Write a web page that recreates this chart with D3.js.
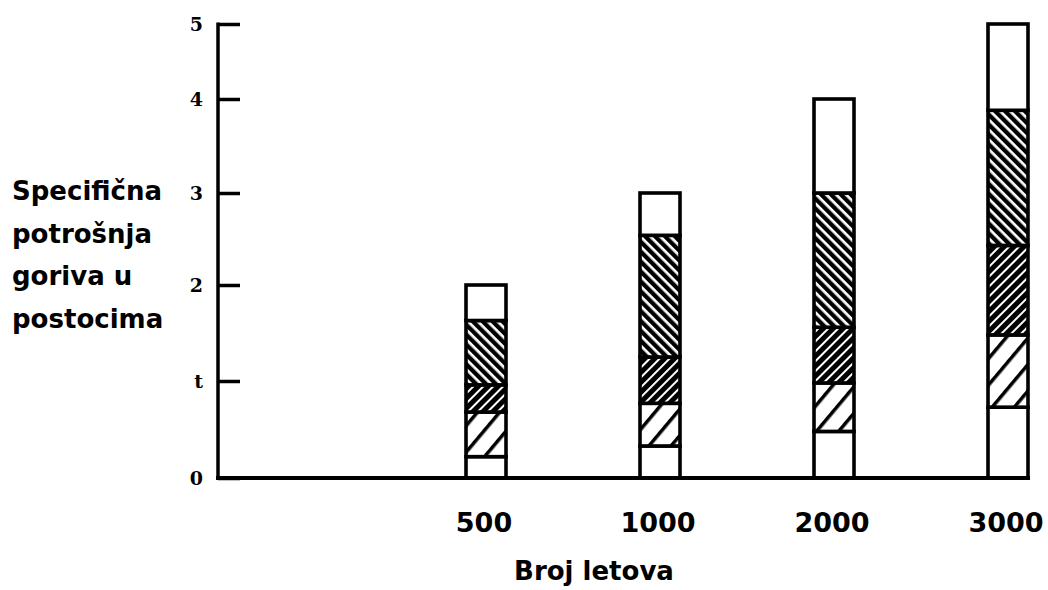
<!DOCTYPE html>
<html>
<head>
<meta charset="utf-8">
<script src="https://cdn.jsdelivr.net/npm/d3@7"></script>
<style>
  body { margin: 0; background: #fff; }
  svg { display: block; }
</style>
</head>
<body>
<div id="chart"></div>
<script>
// categories (number of flights)
var categories = ["500", "1000", "2000", "3000"];

// stacked segments, bottom to top (percent)
var bottomWhite = [0.22, 0.33, 0.48, 0.73];
var sparseHatch = [0.46, 0.44, 0.50, 0.75];
var mediumHatch = [0.28, 0.48, 0.58, 0.95];
var denseHatch = [0.67, 1.29, 1.44, 1.45];
var topWhite = [0.37, 0.46, 1.00, 1.12];

// y tick labels (scan reads "t" for 1)
var yTickValues = [0, 1, 2, 3, 4, 5];
var yTickLabels = ["0", "t", "2", "3", "4", "5"];

var yTitle = ["Specifična", "potrošnja", "goriva u", "postocima"];
var xTitle = "Broj letova";

var width = 1048,
  height = 590;

var svg = d3
  .select("#chart")
  .append("svg")
  .attr("width", width)
  .attr("height", height);

// hatch patterns
var defs = svg.append("defs");
function hatch(id, period, thick, angle) {
  var p = defs
    .append("pattern")
    .attr("id", id)
    .attr("patternUnits", "userSpaceOnUse")
    .attr("width", period)
    .attr("height", period)
    .attr("patternTransform", "rotate(" + angle + ")");
  p.append("rect").attr("width", period).attr("height", period).attr("fill", "#fff");
  p.append("rect").attr("width", thick).attr("height", period).attr("fill", "#000");
}
hatch("dense", 7, 4.3, -45);
hatch("medium", 7, 5, 45);
hatch("sparse", 17, 3.5, 40);

var fills = ["#fff", "url(#sparse)", "url(#medium)", "url(#dense)", "#fff"];

// scales (the scanned axis is slightly uneven)
var y = d3
  .scaleLinear()
  .domain([0, 1, 2, 3, 4, 5])
  .range([478, 381, 285, 193, 99, 24]);

var x = d3.scalePoint().domain(categories).range([486, 1008]);
var barWidth = 40;

// build stacked data
var rows = categories.map(function (c, i) {
  return {
    cat: c,
    s0: bottomWhite[i],
    s1: sparseHatch[i],
    s2: mediumHatch[i],
    s3: denseHatch[i],
    s4: topWhite[i],
  };
});
var stacked = d3.stack().keys(["s0", "s1", "s2", "s3", "s4"])(rows);

svg
  .selectAll("g.layer")
  .data(stacked)
  .enter()
  .append("g")
  .attr("class", "layer")
  .attr("fill", function (d, i) {
    return fills[i];
  })
  .selectAll("rect")
  .data(function (d) {
    return d;
  })
  .enter()
  .append("rect")
  .attr("x", function (d) {
    return x(d.data.cat) - barWidth / 2;
  })
  .attr("y", function (d) {
    return y(d[1]);
  })
  .attr("width", barWidth)
  .attr("height", function (d) {
    return y(d[0]) - y(d[1]);
  })
  .attr("stroke", "#000")
  .attr("stroke-width", 3.6);

// y axis line and ticks
var yAxis = d3
  .axisRight(y)
  .tickValues(yTickValues)
  .tickSize(22)
  .tickFormat("");
var ga = svg.append("g").attr("transform", "translate(218,0)").call(yAxis);
ga.select(".domain").remove();
ga.selectAll(".tick line").attr("stroke", "#000").attr("stroke-width", 3.5);

svg
  .append("line")
  .attr("x1", 218)
  .attr("x2", 218)
  .attr("y1", y(5) - 1.5)
  .attr("y2", y(0) + 2)
  .attr("stroke", "#000")
  .attr("stroke-width", 3.5);

// baseline
svg
  .append("line")
  .attr("x1", 216)
  .attr("x2", 1030)
  .attr("y1", y(0))
  .attr("y2", y(0))
  .attr("stroke", "#000")
  .attr("stroke-width", 4);

// y tick labels
svg
  .selectAll("text.ytick")
  .data(yTickValues)
  .enter()
  .append("text")
  .attr("class", "ytick")
  .attr("x", 203)
  .attr("y", function (d) {
    return y(d);
  })
  .attr("dy", "0.36em")
  .attr("text-anchor", "end")
  .style("font-family", "'DejaVu Serif', serif")
  .style("font-weight", "bold")
  .style("font-size", "19px")
  .text(function (d, i) {
    return yTickLabels[i];
  });

// x category labels
svg
  .selectAll("text.xtick")
  .data(categories)
  .enter()
  .append("text")
  .attr("class", "xtick")
  .attr("x", function (d) {
    return x(d) - 2;
  })
  .attr("y", 532)
  .attr("text-anchor", "middle")
  .style("font-family", "'DejaVu Sans', sans-serif")
  .style("font-weight", "bold")
  .style("font-size", "27px")
  .text(function (d) {
    return d;
  });

// axis titles
svg
  .append("text")
  .attr("x", 594)
  .attr("y", 580)
  .attr("text-anchor", "middle")
  .style("font-family", "'DejaVu Sans', sans-serif")
  .style("font-weight", "bold")
  .style("font-size", "26px")
  .text(xTitle);

svg
  .selectAll("text.ytitle")
  .data(yTitle)
  .enter()
  .append("text")
  .attr("class", "ytitle")
  .attr("x", 12)
  .attr("y", function (d, i) {
    return 200 + i * 42.5;
  })
  .style("font-family", "'DejaVu Sans', sans-serif")
  .style("font-weight", "bold")
  .style("font-size", "26px")
  .text(function (d) {
    return d;
  });
</script>
</body>
</html>
